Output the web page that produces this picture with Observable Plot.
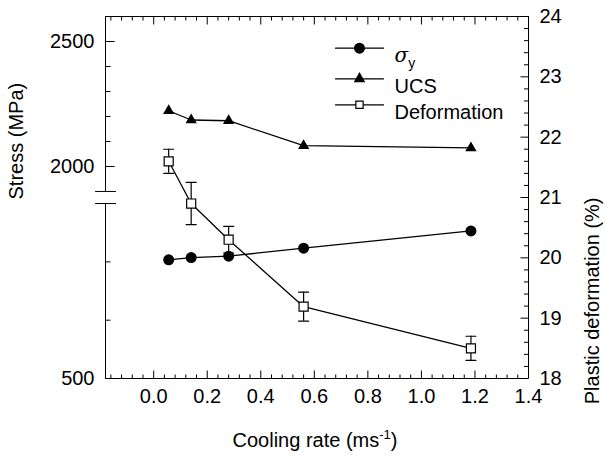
<!DOCTYPE html>
<html><head><meta charset="utf-8">
<script src="https://cdn.jsdelivr.net/npm/d3@7"></script>
<script src="https://cdn.jsdelivr.net/npm/@observablehq/plot@0.6"></script>
<style>body{margin:0;background:#fff} svg{display:block}</style>
</head><body><div id="chart"></div>
<script>
// ---- data ----
const coolingRate = [0.056, 0.14, 0.28, 0.56, 1.185];          // ms^-1
const sigmaY = [1517, 1537, 1549, 1617, 1765];                  // MPa (lower stress segment)
const ucs = [2223, 2186, 2183, 2083, 2074];                     // MPa (upper stress segment)
const deformation = [21.6, 20.9, 20.3, 19.19, 18.5];            // %
const deformationErr = [0.2, 0.35, 0.22, 0.24, 0.2];            // %

// ---- ticks & labels ----
const xMajorTicks = [0, 0.2, 0.4, 0.6, 0.8, 1.0, 1.2, 1.4];
const xMinorTicks = [-0.16, -0.12, -0.08, -0.04, 0.04, 0.08, 0.12, 0.16, 0.24, 0.28, 0.32, 0.36, 0.44, 0.48, 0.52, 0.56,
  0.64, 0.68, 0.72, 0.76, 0.84, 0.88, 0.92, 0.96, 1.04, 1.08, 1.12, 1.16, 1.24, 1.28, 1.32, 1.36];
const pctMajorTicks = [18, 19, 20, 21, 22, 23, 24];
const pctMinorTicks = [18.2, 18.4, 18.6, 18.8, 19.2, 19.4, 19.6, 19.8, 20.2, 20.4, 20.6, 20.8,
  21.2, 21.4, 21.6, 21.8, 22.2, 22.4, 22.6, 22.8, 23.2, 23.4, 23.6, 23.8];
const lowerStressMajor = [500];
const lowerStressMinor = [1000, 1500];
const upperStressMajor = [2000, 2500];
const upperStressMinor = [2100, 2200, 2300, 2400];
const legendLabels = ["σy", "UCS", "Deformation"];
const xTitle = "Cooling rate (ms-1)";
const yLeftTitle = "Stress (MPa)";
const yRightTitle = "Plastic deformation (%)";

// layout
const W = 605, H = 459, mL = 105, mR = 77, mT = 16, mB = 81;
const plotW = W - mL - mR, plotH = H - mT - mB;
const xMin = -0.18, xMax = 1.4, yMin = 18, yMax = 24;
const pxX = plotW / (xMax - xMin), pxY = plotH / (yMax - yMin);   // pixels per data unit
// broken stress axis: two linear segments placed on the shared (right, %) y scale
const breakLow = 20.9, breakHigh = 21.1;
const lowerStress = d3.scaleLinear([500, 2000], [yMin, breakLow]);
const upperStress = d3.scaleLinear([1900, 2600], [breakHigh, yMax]);

const idx = d3.range(coolingRate.length);
const lineShape = {draw(ctx, l) { ctx.moveTo(0, 0); ctx.lineTo(0, -l); }};
const K = {stroke: "black", strokeWidth: 1};
// inward ticks drawn as links whose length is given in pixels
const vTicks = (data, yEdge, len, dir) => Plot.link(data, {x1: d => d, x2: d => d, y1: () => yEdge, y2: () => yEdge + dir * len / pxY, ...K});
const hTicks = (data, f, xEdge, len, dir) => Plot.link(data, {y1: f, y2: f, x1: () => xEdge, x2: () => xEdge + dir * len / pxX, ...K});
const FS = 20;

const marks = [
  // frame (left side broken)
  Plot.ruleY([yMax, yMin], K),
  Plot.ruleX([xMax], K),
  Plot.ruleX([[yMin, breakLow], [breakHigh, yMax]], {x: () => xMin, y1: d => d[0], y2: d => d[1], ...K}),
  Plot.vector([breakLow, breakHigh], {x: () => xMin, y: d => d, rotate: 90, length: 20, anchor: "middle", shape: lineShape, ...K}),
  // ticks (inward)
  vTicks(xMajorTicks, yMin, 8, 1), vTicks(xMinorTicks, yMin, 4, 1),
  vTicks(xMajorTicks, yMax, 8, -1), vTicks(xMinorTicks, yMax, 4, -1),
  hTicks(pctMajorTicks, d => d, xMax, 8, -1), hTicks(pctMinorTicks, d => d, xMax, 4.5, -1),
  hTicks(upperStressMajor, d => upperStress(d), xMin, 9, 1),
  hTicks(upperStressMinor, d => upperStress(d), xMin, 5, 1),
  hTicks(lowerStressMinor, d => lowerStress(d), xMin, 5, 1),
  // tick labels
  Plot.text(xMajorTicks, {x: d => d, text: d => d3.format(".1f")(d), frameAnchor: "bottom", dy: 24, fontSize: FS}),
  Plot.text(pctMajorTicks, {y: d => d, text: d => String(d), frameAnchor: "right", dx: 11, textAnchor: "start", fontSize: FS}),
  Plot.text(upperStressMajor, {y: d => upperStress(d), text: d => String(d), frameAnchor: "left", dx: -11, textAnchor: "end", fontSize: FS}),
  Plot.text(lowerStressMajor, {y: d => lowerStress(d), text: d => String(d), frameAnchor: "left", dx: -11, textAnchor: "end", fontSize: FS}),
  // axis titles
  Plot.text([xTitle], {text: d => d, frameAnchor: "bottom", dx: -2, dy: 68.5, fontSize: FS}),
  Plot.text([yLeftTitle], {text: d => d, frameAnchor: "left", dx: -88.5, dy: 2, rotate: -90, fontSize: FS}),
  Plot.text([yRightTitle], {text: d => d, frameAnchor: "right", dx: 64, rotate: -90, fontSize: FS}),
  // series lines
  Plot.line(idx, {x: i => coolingRate[i], y: i => lowerStress(sigmaY[i]), stroke: "black", strokeWidth: 1.3}),
  Plot.line(idx, {x: i => coolingRate[i], y: i => upperStress(ucs[i]), stroke: "black", strokeWidth: 1.3}),
  Plot.line(idx, {x: i => coolingRate[i], y: i => deformation[i], stroke: "black", strokeWidth: 1.3}),
  // error bars
  Plot.ruleX(idx, {x: i => coolingRate[i], y1: i => deformation[i] - deformationErr[i], y2: i => deformation[i] + deformationErr[i], stroke: "black", strokeWidth: 1.2}),
  Plot.vector(idx, {x: i => coolingRate[i], y: i => deformation[i] - deformationErr[i], rotate: 90, length: 10, anchor: "middle", shape: lineShape, stroke: "black", strokeWidth: 1.2}),
  Plot.vector(idx, {x: i => coolingRate[i], y: i => deformation[i] + deformationErr[i], rotate: 90, length: 10, anchor: "middle", shape: lineShape, stroke: "black", strokeWidth: 1.2}),
  // markers
  Plot.dot(idx, {x: i => coolingRate[i], y: i => lowerStress(sigmaY[i]), r: 5.5, fill: "black", stroke: "none", symbol: "circle"}),
  Plot.dot(idx, {x: i => coolingRate[i], y: i => upperStress(ucs[i]), r: 4.2, fill: "black", stroke: "none", symbol: "triangle"}),
  Plot.dot(idx, {x: i => coolingRate[i], y: i => deformation[i], r: 5.1, fill: "white", stroke: "black", strokeWidth: 1.2, symbol: "square"})
];

// legend
const legendDy = [31.7, 62.3, 88.3];
const legendSym = [
  {symbol: "circle", r: 5.5, fill: "black", stroke: "none"},
  {symbol: "triangle", r: 4.3, fill: "black", stroke: "none"},
  {symbol: "square", r: 4.1, fill: "white", stroke: "black", strokeWidth: 1.2}
];
legendLabels.forEach((lab, k) => {
  marks.push(Plot.vector([lab], {frameAnchor: "top-left", dx: 254, dy: legendDy[k], rotate: 90, length: 48, anchor: "middle", shape: lineShape, stroke: "black", strokeWidth: 1.3}));
  marks.push(Plot.dot([lab], {frameAnchor: "top-left", dx: 254, dy: legendDy[k], ...legendSym[k]}));
  marks.push(Plot.text([lab], {text: d => d, frameAnchor: "top-left", dx: 289, dy: legendDy[k], textAnchor: "start", fontSize: FS}));
});

const chart = Plot.plot({
  width: W, height: H,
  marginLeft: mL, marginRight: mR, marginTop: mT, marginBottom: mB,
  x: {domain: [xMin, xMax], axis: null},
  y: {domain: [yMin, yMax], axis: null},
  style: {fontFamily: "Liberation Sans, Arial, Helvetica, sans-serif", fontSize: "20px", color: "black", background: "white", overflow: "visible"},
  marks
});
document.getElementById("chart").appendChild(chart);

// rich text: italic sigma with subscript y, and superscript -1
chart.querySelectorAll("text").forEach(t => {
  if (t.textContent === "σy") {
    t.innerHTML = '<tspan font-style="italic" font-family="DejaVu Serif, serif">σ</tspan><tspan dy="6" font-size="14">y</tspan>';
  } else if (t.textContent === xTitle) {
    t.innerHTML = 'Cooling rate (ms<tspan dy="-8" font-size="13">-1</tspan><tspan dy="8">)</tspan>';
  }
});
</script>
</body></html>
